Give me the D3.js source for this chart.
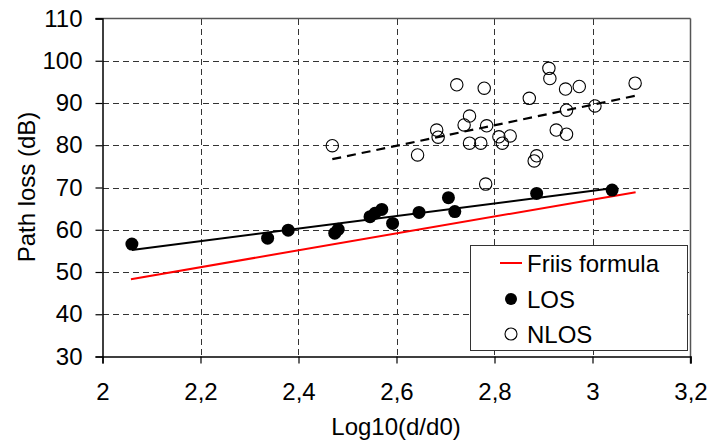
<!DOCTYPE html>
<html>
<head>
<meta charset="utf-8">
<script src="https://cdn.jsdelivr.net/npm/d3@7"></script>
<style>
  body { margin: 0; background: #fff; }
  svg { display: block; }
  text { font-family: "Liberation Sans", Arial, Helvetica, sans-serif; fill: #000; }
</style>
</head>
<body>
<svg id="chart" width="710" height="441"></svg>
<script>
// Axis ticks
const xTicks = [2, 2.2, 2.4, 2.6, 2.8, 3, 3.2];
const yTicks = [30, 40, 50, 60, 70, 80, 90, 100, 110];

// LOS measurements: log10(d/d0) and path loss (dB)
const losX = [2.060, 2.337, 2.379, 2.474, 2.481, 2.546, 2.556, 2.570, 2.592, 2.646, 2.706, 2.719, 2.886, 3.040];
const losY = [56.6, 58.0, 59.9, 59.2, 60.1, 63.1, 63.9, 64.8, 61.5, 64.1, 67.6, 64.3, 68.6, 69.4];

// NLOS measurements
const nlosX = [2.469, 2.643, 2.682, 2.685, 2.723, 2.738, 2.749, 2.749, 2.772, 2.779, 2.782, 2.784,
               2.809, 2.816, 2.832, 2.871, 2.881, 2.886, 2.911, 2.913, 2.926, 2.945, 2.947, 2.947,
               2.973, 3.005, 3.087];
const nlosY = [79.9, 77.7, 83.6, 81.9, 94.3, 84.8, 86.9, 80.5, 80.5, 93.5, 70.8, 84.6,
               82.0, 80.5, 82.2, 91.1, 76.3, 77.5, 98.2, 95.8, 83.6, 93.3, 88.3, 82.6,
               93.9, 89.3, 94.7];

// Fitted lines (end points) and the Friis free-space reference
const friisX = [2.058, 3.088];
const friisY = [48.3, 68.9];
const losFitX = [2.060, 3.040];
const losFitY = [55.2, 69.8];
const nlosFitX = [2.469, 3.087];
const nlosFitY = [76.7, 91.7];

const legendLabels = ["Friis formula", "LOS", "NLOS"];

const svg = d3.select("#chart");
const x = d3.scaleLinear().domain([2, 3.2]).range([102.5, 690.5]);
const y = d3.scaleLinear().domain([30, 110]).range([356.5, 18.5]);
const fmt = v => String(v).replace(".", ",");

// Grid
const grid = svg.append("g").attr("stroke", "#333").attr("stroke-width", 1)
  .attr("stroke-dasharray", "6,4").attr("shape-rendering", "crispEdges");
grid.selectAll("line.v").data(xTicks.slice(1, -1)).join("line")
  .attr("x1", d => Math.round(x(d)) + 0.5).attr("x2", d => Math.round(x(d)) + 0.5)
  .attr("y1", y(110)).attr("y2", y(30));
grid.selectAll("line.h").data(yTicks.slice(1, -1)).join("line")
  .attr("x1", x(2)).attr("x2", x(3.2))
  .attr("y1", d => Math.round(y(d)) + 0.5).attr("y2", d => Math.round(y(d)) + 0.5);

// Plot frame: top and right in grey
svg.append("line").attr("x1", x(2) - 7).attr("x2", x(3.2)).attr("y1", y(110)).attr("y2", y(110))
  .attr("stroke", "#555").attr("stroke-width", 1.5);
svg.append("line").attr("x1", x(3.2)).attr("x2", x(3.2)).attr("y1", y(110)).attr("y2", y(30) + 7)
  .attr("stroke", "#555").attr("stroke-width", 1.5);

// Axes
const xAxis = d3.axisBottom(x).tickValues(xTicks).tickFormat(fmt).tickSize(7).tickPadding(19);
const yAxis = d3.axisLeft(y).tickValues(yTicks).tickFormat(fmt).tickSize(7).tickPadding(13);
const gx = svg.append("g").attr("transform", `translate(0,${y(30)})`).call(xAxis);
const gy = svg.append("g").attr("transform", `translate(${x(2)},0)`).call(yAxis);
[gx, gy].forEach(g => {
  g.select(".domain").attr("stroke", "#000").attr("stroke-width", 1.5);
  g.selectAll(".tick line").attr("stroke", "#000").attr("stroke-width", 1.2);
  g.selectAll(".tick text").attr("font-size", 24).attr("font-family", "Liberation Sans, Arial, sans-serif");
});
gx.select(".tick:first-child line").remove();

// Axis titles
svg.append("text").attr("x", 396).attr("y", 435).attr("text-anchor", "middle")
  .attr("font-size", 24).text("Log10(d/d0)");
svg.append("text").attr("transform", `translate(35,187) rotate(-90)`).attr("text-anchor", "middle")
  .attr("font-size", 24).text("Path loss (dB)");

// Lines
const line = d3.line().x(d => x(d[0])).y(d => y(d[1]));
svg.append("path").datum(d3.zip(friisX, friisY)).attr("d", line)
  .attr("fill", "none").attr("stroke", "#ff0000").attr("stroke-width", 2);
svg.append("path").datum(d3.zip(losFitX, losFitY)).attr("d", line)
  .attr("fill", "none").attr("stroke", "#000").attr("stroke-width", 2);
svg.append("path").datum(d3.zip(nlosFitX, nlosFitY)).attr("d", line)
  .attr("fill", "none").attr("stroke", "#000").attr("stroke-width", 2.2).attr("stroke-dasharray", "9,6");

// Points
svg.append("g").selectAll("circle").data(d3.zip(nlosX, nlosY)).join("circle")
  .attr("cx", d => x(d[0])).attr("cy", d => y(d[1])).attr("r", 6.2)
  .attr("fill", "none").attr("stroke", "#000").attr("stroke-width", 1.1);
svg.append("g").selectAll("circle").data(d3.zip(losX, losY)).join("circle")
  .attr("cx", d => x(d[0])).attr("cy", d => y(d[1])).attr("r", 6.5)
  .attr("fill", "#000");

// Legend
const lg = svg.append("g").attr("transform", "translate(470,245)");
lg.append("rect").attr("x", 0.5).attr("y", 0.5).attr("width", 217).attr("height", 105)
  .attr("fill", "#fff").attr("stroke", "#333").attr("stroke-width", 1);
const rowY = [18, 54, 89];
lg.append("line").attr("x1", 30).attr("x2", 52).attr("y1", rowY[0]).attr("y2", rowY[0])
  .attr("stroke", "#ff0000").attr("stroke-width", 2);
lg.append("circle").attr("cx", 41).attr("cy", rowY[1]).attr("r", 6).attr("fill", "#000");
lg.append("circle").attr("cx", 41).attr("cy", rowY[2]).attr("r", 6)
  .attr("fill", "#fff").attr("stroke", "#000").attr("stroke-width", 1.1);
lg.selectAll("text").data(legendLabels).join("text")
  .attr("x", 57).attr("y", (d, i) => rowY[i] + 8.5).attr("font-size", 24).text(d => d);
</script>
</body>
</html>
